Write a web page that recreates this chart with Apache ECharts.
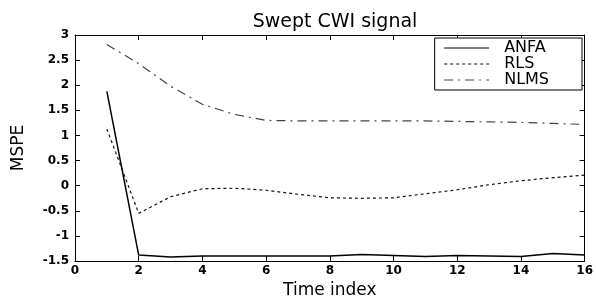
<!DOCTYPE html>
<html>
<head>
<meta charset="utf-8">
<script src="https://cdn.jsdelivr.net/npm/echarts@6/dist/echarts.min.js"></script>
<style>
html,body{margin:0;padding:0;background:#fff;}
#main{width:596px;height:304px;}
</style>
</head>
<body>
<div id="main"></div>
<script>
// time index 1..16
var timeIndex = [1,2,3,4,5,6,7,8,9,10,11,12,13,14,15,16];
var anfa = [1.88,-1.38,-1.42,-1.40,-1.40,-1.40,-1.40,-1.40,-1.37,-1.39,-1.41,-1.39,-1.40,-1.41,-1.35,-1.38];
var rls  = [1.13,-0.55,-0.22,-0.06,-0.05,-0.09,-0.17,-0.24,-0.25,-0.24,-0.16,-0.08,0.02,0.10,0.16,0.21];
var nlms = [2.81,2.43,1.98,1.62,1.42,1.30,1.29,1.29,1.29,1.29,1.29,1.28,1.27,1.26,1.24,1.22];

function pairs(vals){
	var out = [];
	for(var i=0;i<timeIndex.length;i++){
		out.push([timeIndex[i], vals[i]]);
	}
	return out;
}

var font = 'DejaVu Sans';
var axisCommon = {
	min: 0, max: 16, interval: 2,
	axisLine: {show: true, onZero: false, lineStyle: {color: '#000', width: 1}},
	axisTick: {show: true, inside: true, length: 5, lineStyle: {color: '#000'}},
	splitLine: {show: false}
};

var chart = echarts.init(document.getElementById('main'));
var option = {
	backgroundColor: '#fff',
	animation: false,
	title: {
		text: 'Swept CWI signal',
		left: 330, top: 8,
		textAlign: 'center',
		textStyle: {fontFamily: font, fontSize: 19, fontWeight: 'normal', color: '#000'}
	},
	legend: {
		orient: 'vertical',
		right: 14, top: 38,
		padding: [2, 33, 2, 9],
		itemGap: 0,
		itemWidth: 45, itemHeight: 12,
		itemStyle: {opacity: 0},
		lineStyle: {width: 1},
		backgroundColor: '#fff',
		borderColor: '#000', borderWidth: 1, borderRadius: 0,
		textStyle: {fontFamily: font, fontSize: 16, color: '#000', width: 60, padding: [0,0,0,10]},
		data: ['ANFA','RLS','NLMS']
	},
	grid: {left: 75, right: 11, top: 35, bottom: 31},
	xAxis: [
		Object.assign({}, axisCommon, {
			type: 'value', position: 'bottom',
			name: 'Time index', nameLocation: 'middle', nameGap: 11,
			nameTextStyle: {fontFamily: font, fontSize: 17, color: '#000'},
			axisLabel: {margin: 4, fontFamily: font, fontSize: 12, fontWeight: 'bold', color: '#000'}
		}),
		Object.assign({}, axisCommon, {
			type: 'value', position: 'top',
			axisLabel: {show: false}
		})
	],
	yAxis: [
		{
			type: 'value', position: 'left',
			min: -1.5, max: 3, interval: 0.5,
			name: 'MSPE', nameLocation: 'middle', nameGap: 48,
			nameTextStyle: {fontFamily: font, fontSize: 17, color: '#000'},
			axisLine: {show: true, onZero: false, lineStyle: {color: '#000'}},
			axisTick: {show: true, inside: true, length: 5, lineStyle: {color: '#000'}},
			axisLabel: {margin: 6, fontFamily: font, fontSize: 12, fontWeight: 'bold', color: '#000'},
			splitLine: {show: false}
		},
		{
			type: 'value', position: 'right',
			min: -1.5, max: 3, interval: 0.5,
			axisLine: {show: true, onZero: false, lineStyle: {color: '#000'}},
			axisTick: {show: true, inside: true, length: 5, lineStyle: {color: '#000'}},
			axisLabel: {show: false},
			splitLine: {show: false}
		}
	],
	series: [
		{
			name: 'ANFA', type: 'line', symbol: 'none',
			data: pairs(anfa),
			color: '#000',
			lineStyle: {color: '#000', width: 1.5, type: 'solid'}
		},
		{
			name: 'RLS', type: 'line', symbol: 'none',
			data: pairs(rls),
			color: '#111',
			lineStyle: {color: '#111', width: 1.2, type: [3, 3]}
		},
		{
			name: 'NLMS', type: 'line', symbol: 'none',
			data: pairs(nlms),
			color: '#444',
			lineStyle: {color: '#444', width: 1.2, type: [9, 5, 2, 5]}
		}
	]
};
chart.setOption(option);
</script>
</body>
</html>
